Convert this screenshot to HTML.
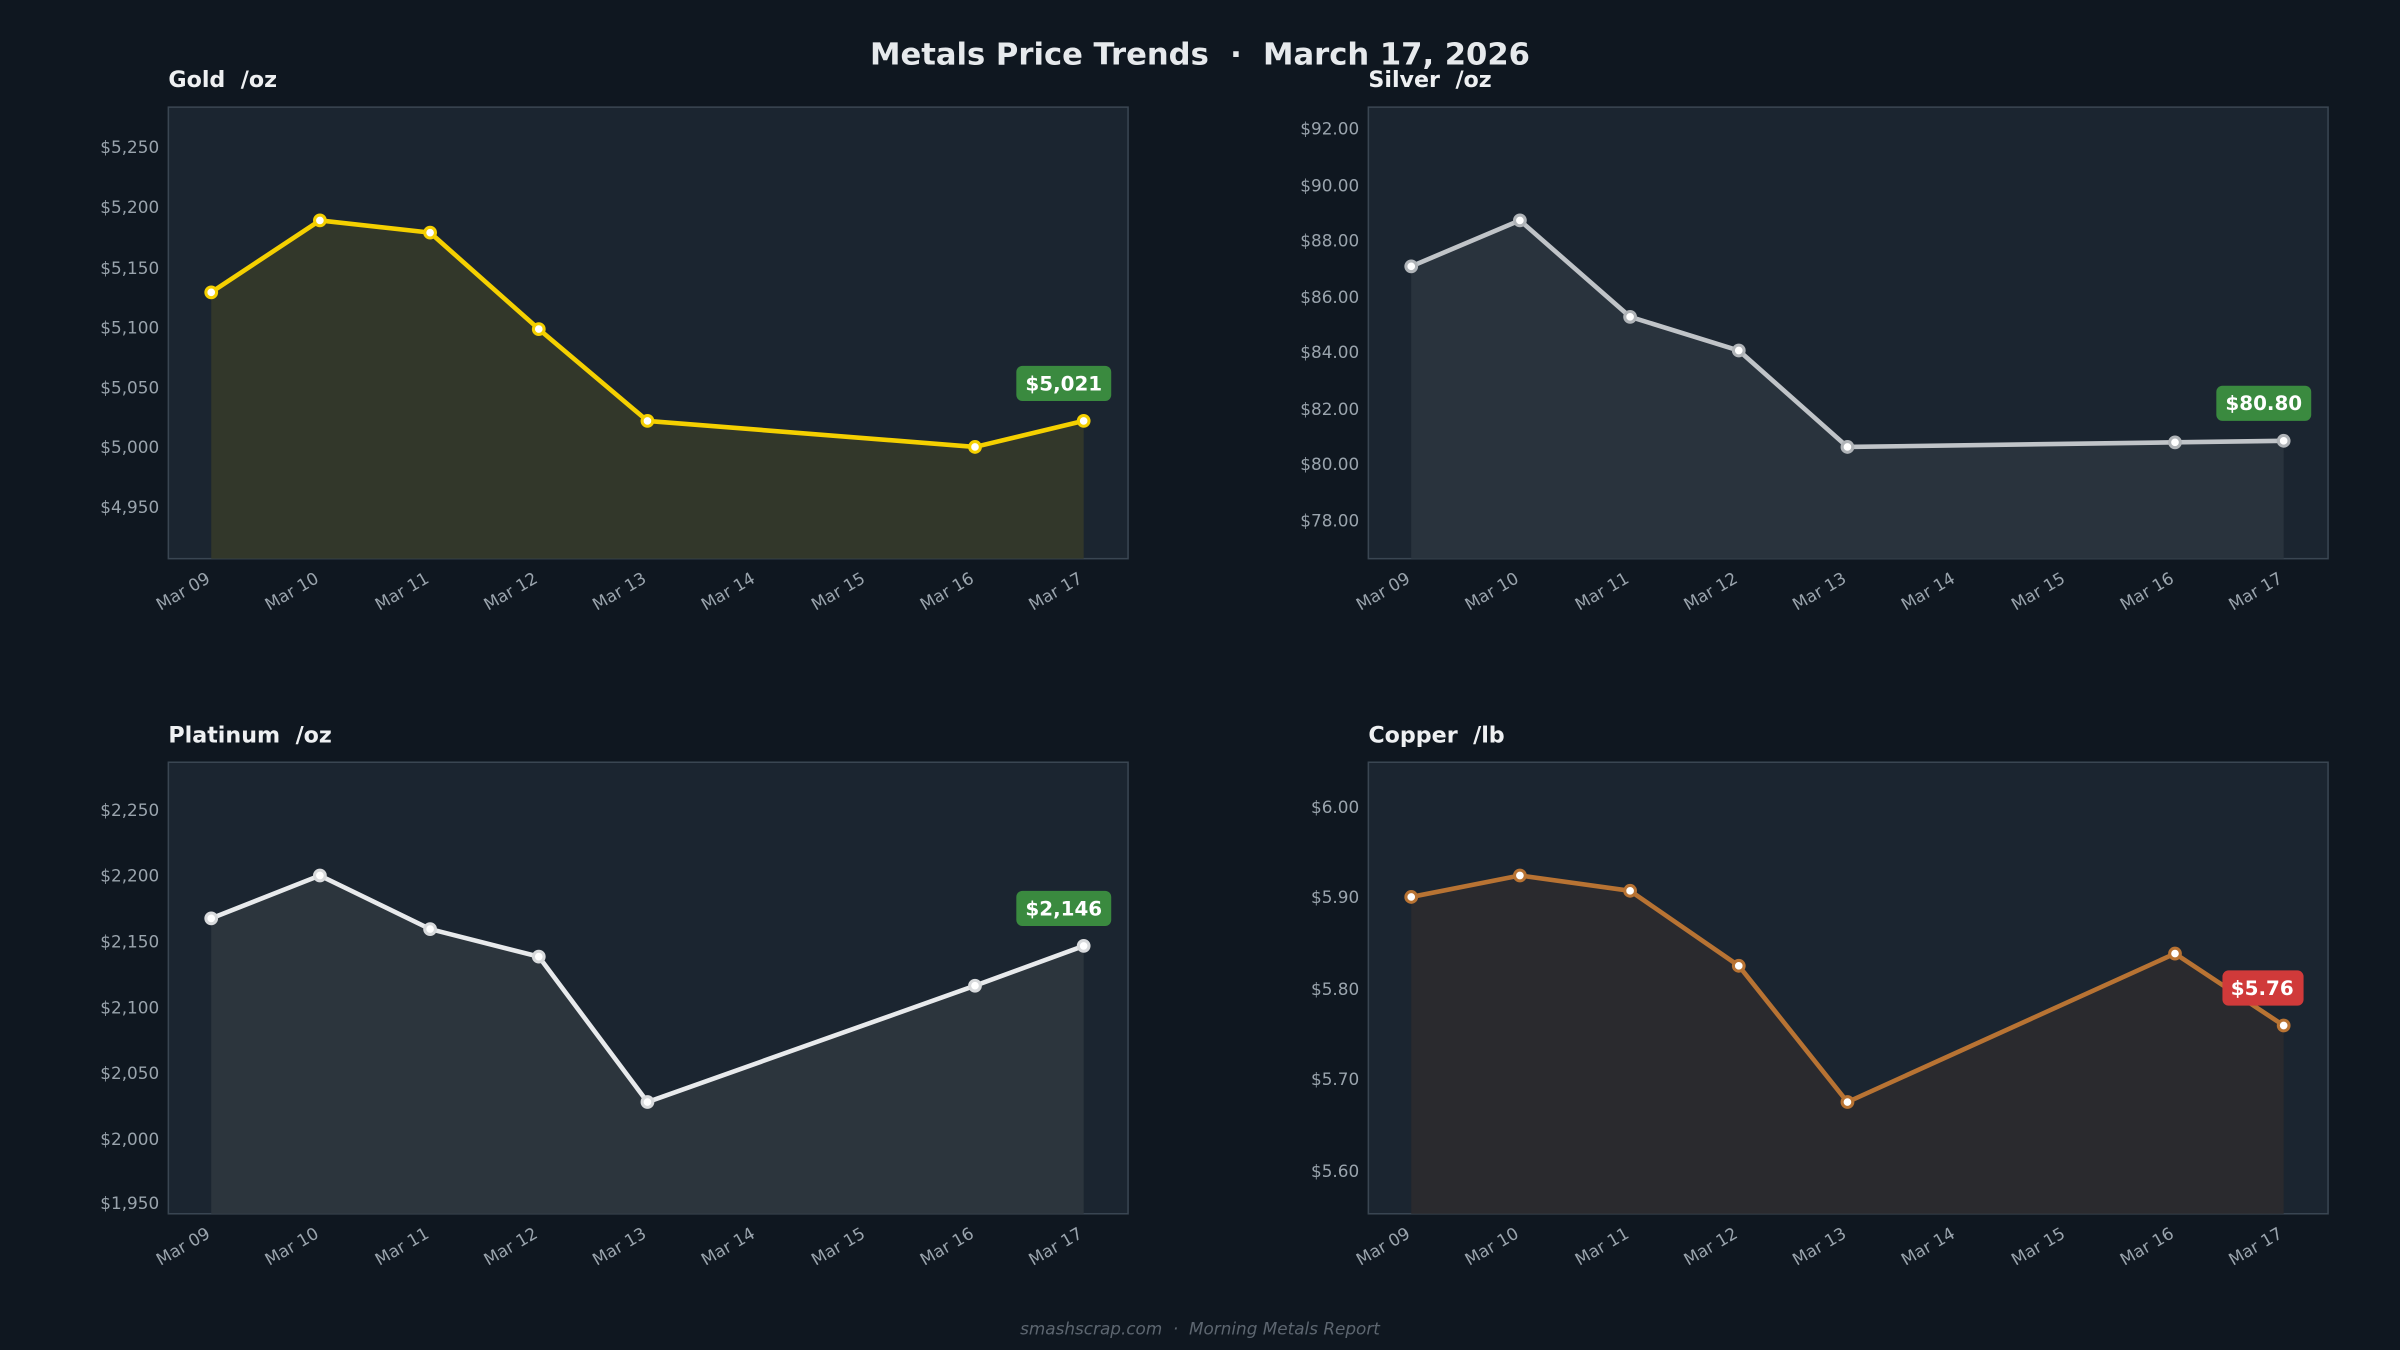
<!DOCTYPE html>
<html><head><meta charset="utf-8"><style>
html,body{margin:0;padding:0;background:#0f1720;}
svg{display:block;}
text{font-family:"DejaVu Sans","Liberation Sans",sans-serif;white-space:pre;}
.t{fill:#9aa4ad;font-size:11px;}
.pt{fill:#eef0f2;font-size:14.5px;font-weight:bold;}
.lb{fill:#fff;font-size:13px;font-weight:bold;}
</style></head><body>
<svg width="2400" height="1350" viewBox="0 0 1568 882" xmlns="http://www.w3.org/2000/svg" xml:space="preserve">
<rect width="1568" height="882" fill="#0f1720"/>
<text x="784" y="42" text-anchor="middle" fill="#e6e9ec" font-size="20" font-weight="bold">Metals Price Trends  ·  March 17, 2026</text>

<!-- Gold -->
<text class="pt" x="110" y="57">Gold  /oz</text>
<rect x="110" y="70" width="627" height="295" fill="#1b2530" stroke="#3a4652" stroke-width="1"/>
<g class="t" text-anchor="end">
<text x="104" y="100">$5,250</text><text x="104" y="139">$5,200</text><text x="104" y="179">$5,150</text><text x="104" y="218">$5,100</text><text x="104" y="257">$5,050</text><text x="104" y="296">$5,000</text><text x="104" y="335">$4,950</text>
</g>
<polygon points="138,365 138,191 209,144 281,152 352,215 423,275 637,292 708,275 708,365" fill="#32372a"/>
<polyline points="138,191 209,144 281,152 352,215 423,275 637,292 708,275" fill="none" stroke="#f5d000" stroke-width="3" stroke-linejoin="round"/>
<g fill="#fff" stroke="#f5d000" stroke-width="2"><circle cx="138" cy="191" r="3.5"/><circle cx="209" cy="144" r="3.5"/><circle cx="281" cy="152" r="3.5"/><circle cx="352" cy="215" r="3.5"/><circle cx="423" cy="275" r="3.5"/><circle cx="637" cy="292" r="3.5"/><circle cx="708" cy="275" r="3.5"/></g>
<rect x="664" y="239" width="62" height="23" rx="4" fill="#3a8a3f"/><text class="lb" x="695" y="255" text-anchor="middle">$5,021</text>
<g class="t" text-anchor="end">
<text transform="translate(138,380) rotate(-30)">Mar 09</text><text transform="translate(209,380) rotate(-30)">Mar 10</text><text transform="translate(281,380) rotate(-30)">Mar 11</text><text transform="translate(352,380) rotate(-30)">Mar 12</text><text transform="translate(423,380) rotate(-30)">Mar 13</text><text transform="translate(494,380) rotate(-30)">Mar 14</text><text transform="translate(566,380) rotate(-30)">Mar 15</text><text transform="translate(637,380) rotate(-30)">Mar 16</text><text transform="translate(708,380) rotate(-30)">Mar 17</text>
</g>

<!-- Silver -->
<text class="pt" x="894" y="57">Silver  /oz</text>
<rect x="894" y="70" width="627" height="295" fill="#1b2530" stroke="#3a4652" stroke-width="1"/>
<g class="t" text-anchor="end">
<text x="888" y="88">$92.00</text><text x="888" y="125">$90.00</text><text x="888" y="161">$88.00</text><text x="888" y="198">$86.00</text><text x="888" y="234">$84.00</text><text x="888" y="271">$82.00</text><text x="888" y="307">$80.00</text><text x="888" y="344">$78.00</text>
</g>
<polygon points="922,365 922,174 993,144 1065,207 1136,229 1207,292 1421,289 1492,288 1492,365" fill="#29333d"/>
<polyline points="922,174 993,144 1065,207 1136,229 1207,292 1421,289 1492,288" fill="none" stroke="#c0c4c8" stroke-width="3" stroke-linejoin="round"/>
<g fill="#fff" stroke="#b0b4b8" stroke-width="2"><circle cx="922" cy="174" r="3.5"/><circle cx="993" cy="144" r="3.5"/><circle cx="1065" cy="207" r="3.5"/><circle cx="1136" cy="229" r="3.5"/><circle cx="1207" cy="292" r="3.5"/><circle cx="1421" cy="289" r="3.5"/><circle cx="1492" cy="288" r="3.5"/></g>
<rect x="1448" y="252" width="62" height="23" rx="4" fill="#3a8a3f"/><text class="lb" x="1479" y="268" text-anchor="middle">$80.80</text>
<g class="t" text-anchor="end">
<text transform="translate(922,380) rotate(-30)">Mar 09</text><text transform="translate(993,380) rotate(-30)">Mar 10</text><text transform="translate(1065,380) rotate(-30)">Mar 11</text><text transform="translate(1136,380) rotate(-30)">Mar 12</text><text transform="translate(1207,380) rotate(-30)">Mar 13</text><text transform="translate(1278,380) rotate(-30)">Mar 14</text><text transform="translate(1350,380) rotate(-30)">Mar 15</text><text transform="translate(1421,380) rotate(-30)">Mar 16</text><text transform="translate(1492,380) rotate(-30)">Mar 17</text>
</g>

<!-- Platinum -->
<text class="pt" x="110" y="485">Platinum  /oz</text>
<rect x="110" y="498" width="627" height="295" fill="#1b2530" stroke="#3a4652" stroke-width="1"/>
<g class="t" text-anchor="end">
<text x="104" y="533">$2,250</text><text x="104" y="576">$2,200</text><text x="104" y="619">$2,150</text><text x="104" y="662">$2,100</text><text x="104" y="705">$2,050</text><text x="104" y="748">$2,000</text><text x="104" y="790">$1,950</text>
</g>
<polygon points="138,793 138,600 209,572 281,607 352,625 423,720 637,644 708,618 708,793" fill="#2c353d"/>
<polyline points="138,600 209,572 281,607 352,625 423,720 637,644 708,618" fill="none" stroke="#e8eaec" stroke-width="3" stroke-linejoin="round"/>
<g fill="#fff" stroke="#d8dadc" stroke-width="2"><circle cx="138" cy="600" r="3.5"/><circle cx="209" cy="572" r="3.5"/><circle cx="281" cy="607" r="3.5"/><circle cx="352" cy="625" r="3.5"/><circle cx="423" cy="720" r="3.5"/><circle cx="637" cy="644" r="3.5"/><circle cx="708" cy="618" r="3.5"/></g>
<rect x="664" y="582" width="62" height="23" rx="4" fill="#3a8a3f"/><text class="lb" x="695" y="598" text-anchor="middle">$2,146</text>
<g class="t" text-anchor="end">
<text transform="translate(138,808) rotate(-30)">Mar 09</text><text transform="translate(209,808) rotate(-30)">Mar 10</text><text transform="translate(281,808) rotate(-30)">Mar 11</text><text transform="translate(352,808) rotate(-30)">Mar 12</text><text transform="translate(423,808) rotate(-30)">Mar 13</text><text transform="translate(494,808) rotate(-30)">Mar 14</text><text transform="translate(566,808) rotate(-30)">Mar 15</text><text transform="translate(637,808) rotate(-30)">Mar 16</text><text transform="translate(708,808) rotate(-30)">Mar 17</text>
</g>

<!-- Copper -->
<text class="pt" x="894" y="485">Copper  /lb</text>
<rect x="894" y="498" width="627" height="295" fill="#1b2530" stroke="#3a4652" stroke-width="1"/>
<g class="t" text-anchor="end">
<text x="888" y="531">$6.00</text><text x="888" y="590">$5.90</text><text x="888" y="650">$5.80</text><text x="888" y="709">$5.70</text><text x="888" y="769">$5.60</text>
</g>
<polygon points="922,793 922,586 993,572 1065,582 1136,631 1207,720 1421,623 1492,670 1492,793" fill="#2a2a2e"/>
<polyline points="922,586 993,572 1065,582 1136,631 1207,720 1421,623 1492,670" fill="none" stroke="#b87333" stroke-width="3" stroke-linejoin="round"/>
<g fill="#fff" stroke="#b87333" stroke-width="2"><circle cx="922" cy="586" r="3.5"/><circle cx="993" cy="572" r="3.5"/><circle cx="1065" cy="582" r="3.5"/><circle cx="1136" cy="631" r="3.5"/><circle cx="1207" cy="720" r="3.5"/><circle cx="1421" cy="623" r="3.5"/><circle cx="1492" cy="670" r="3.5"/></g>
<rect x="1452" y="634" width="53" height="23" rx="4" fill="#d03a3a"/><text class="lb" x="1478" y="650" text-anchor="middle">$5.76</text>
<g class="t" text-anchor="end">
<text transform="translate(922,808) rotate(-30)">Mar 09</text><text transform="translate(993,808) rotate(-30)">Mar 10</text><text transform="translate(1065,808) rotate(-30)">Mar 11</text><text transform="translate(1136,808) rotate(-30)">Mar 12</text><text transform="translate(1207,808) rotate(-30)">Mar 13</text><text transform="translate(1278,808) rotate(-30)">Mar 14</text><text transform="translate(1350,808) rotate(-30)">Mar 15</text><text transform="translate(1421,808) rotate(-30)">Mar 16</text><text transform="translate(1492,808) rotate(-30)">Mar 17</text>
</g>

<text x="784" y="872" text-anchor="middle" fill="#5d6670" font-size="11" font-style="italic">smashscrap.com  ·  Morning Metals Report</text>
</svg>
</body></html>
